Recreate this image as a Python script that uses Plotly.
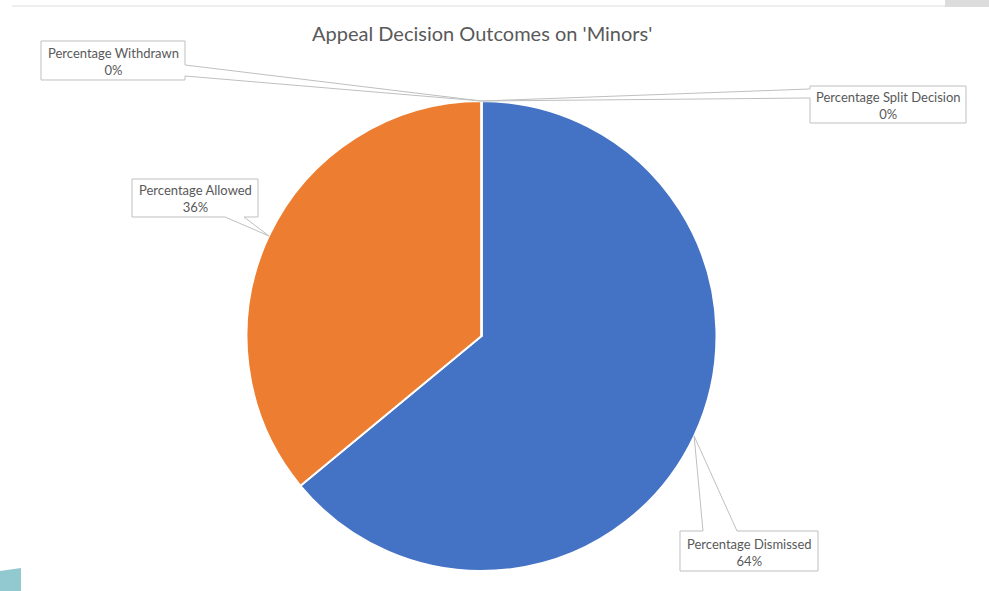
import math
import plotly.graph_objects as go

# Appeal outcome shares (percent), in the order the slices run clockwise from 12 o'clock
outcomes = ["Percentage Dismissed", "Percentage Allowed", "Percentage Split Decision", "Percentage Withdrawn"]
shares = [64, 36, 0, 0]
slice_colors = ["#4472C4", "#ED7D31", "#A5A5A5", "#FFC000"]
title_text = "Appeal Decision Outcomes on 'Minors'"

W, H = 989, 591
CX, CY, R = 481.5, 336.0, 235.0   # pie centre / radius in pixels

# callout boxes: (x0, y0, x1, y1, side the pointer leaves from, base points along that side)
callouts = {
    "Percentage Dismissed": (680, 531, 818, 571, "top", (703, 737)),
    "Percentage Allowed": (132, 179, 258, 217, "bottom", (225, 244)),
    "Percentage Split Decision": (810, 86, 966, 123, "left", (89, 98)),
    "Percentage Withdrawn": (41, 41, 185, 80, "right", (65, 76)),
}

TEXT = "#595959"
EDGE = "#BFBFBF"
FONT = "Lato, 'Open Sans', sans-serif"


def px(x):
    return x / W


def py(y):
    return 1 - y / H


fig = go.Figure()
fig.add_trace(go.Pie(
    labels=outcomes, values=shares, sort=False, direction="clockwise", rotation=0,
    marker=dict(colors=slice_colors, line=dict(color="white", width=2)),
    textinfo="none", hoverinfo="label+percent", showlegend=False,
    domain=dict(x=[px(CX - R), px(CX + R)], y=[py(CY + R), py(CY - R)]),
))

# point on the rim at the middle of each slice, from the cumulative shares
total = sum(shares)
anchors = {}
acc = 0.0
for name, v in zip(outcomes, shares):
    mid = (acc + v / 2) / total * 2 * math.pi
    anchors[name] = (CX + R * math.sin(mid), CY - R * math.cos(mid))
    acc += v


def path_of(pts):
    return "M " + " L ".join(f"{px(a):.5f},{py(b):.5f}" for a, b in pts) + " Z"


def callout_path(box, tip):
    x0, y0, x1, y1, side, (b1, b2) = box
    tx, ty = tip
    if side == "top":
        pts = [(x0, y0), (b1, y0), (tx, ty), (b2, y0), (x1, y0), (x1, y1), (x0, y1)]
    elif side == "bottom":
        pts = [(x0, y0), (x1, y0), (x1, y1), (b2, y1), (tx, ty), (b1, y1), (x0, y1)]
    elif side == "right":
        pts = [(x0, y0), (x1, y0), (x1, b1), (tx, ty), (x1, b2), (x1, y1), (x0, y1)]
    else:
        pts = [(x0, y0), (x1, y0), (x1, y1), (x0, y1), (x0, b2), (tx, ty), (x0, b1)]
    return path_of(pts)


P = dict(xref="paper", yref="paper")
shapes = [
    # page furniture
    dict(type="line", x0=px(12), x1=px(945), y0=py(6), y1=py(6),
         line=dict(color="#E8E8E8", width=1.5), layer="below", **P),
    dict(type="rect", x0=px(945), x1=px(989), y0=py(0), y1=py(7), fillcolor="#DCDCDC",
         line=dict(width=0), layer="below", **P),
    dict(type="path", path=path_of([(0, 571), (21, 568), (21, 591), (0, 591)]), fillcolor="#92C8CF",
         line=dict(width=0), layer="below", **P),
]
annotations = [
    dict(x=px(482), y=py(33), text=title_text, showarrow=False, xanchor="center", yanchor="middle",
         font=dict(family=FONT, size=20, color=TEXT), **P),
]

for name, v in zip(outcomes, shares):
    box = callouts[name]
    shapes.append(dict(type="path", path=callout_path(box, anchors[name]), fillcolor="white",
                       line=dict(color=EDGE, width=1), layer="above", **P))
    annotations.append(dict(
        x=px((box[0] + box[2]) / 2), y=py((box[1] + box[3]) / 2 + 1),
        text=f"{name}<br>{v / total * 100:.0f}%", showarrow=False,
        xanchor="center", yanchor="middle", align="center",
        font=dict(family=FONT, size=13, color=TEXT), **P,
    ))

fig.update_layout(
    width=W, height=H, margin=dict(l=0, r=0, t=0, b=0),
    paper_bgcolor="white", plot_bgcolor="white",
    shapes=shapes, annotations=annotations,
)

fig.write_html("out.html")
